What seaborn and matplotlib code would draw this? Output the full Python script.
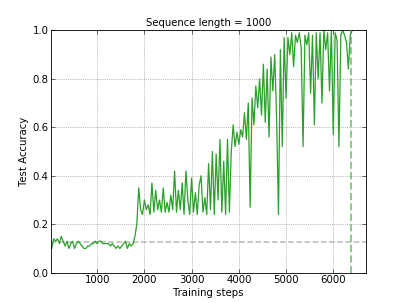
import numpy as np
import pandas as pd
import matplotlib
matplotlib.use("Agg")
import matplotlib.pyplot as plt
import seaborn as sns

step_interval = 40
accuracy = [
    # 40 - 1800
    0.10, 0.14, 0.13, 0.14, 0.12, 0.15, 0.13, 0.11, 0.13, 0.10,
    0.12, 0.13, 0.10, 0.12, 0.13, 0.12, 0.11, 0.10, 0.10, 0.11,
    0.11, 0.12, 0.12, 0.13, 0.12, 0.13, 0.13, 0.12, 0.12, 0.12,
    0.12, 0.11, 0.12, 0.11, 0.10, 0.11, 0.10, 0.11, 0.12, 0.13,
    0.10, 0.12, 0.11, 0.12, 0.15,
    # 1840 - 2600
    0.20, 0.35, 0.26, 0.24, 0.30, 0.26, 0.28, 0.24, 0.37, 0.25,
    0.34, 0.26, 0.30, 0.25, 0.35, 0.25, 0.29, 0.25, 0.32, 0.26,
    # 2640 - 3400
    0.42, 0.25, 0.34, 0.26, 0.37, 0.24, 0.42, 0.30, 0.24, 0.39,
    0.25, 0.33, 0.24, 0.36, 0.40, 0.25, 0.31, 0.24, 0.45, 0.26,
    # 3440 - 4000
    0.50, 0.24, 0.49, 0.30, 0.55, 0.25, 0.46, 0.24, 0.55, 0.25,
    0.50, 0.61, 0.52, 0.58, 0.53,
    # 4040 - 4560
    0.59, 0.56, 0.66, 0.55, 0.70, 0.27, 0.72, 0.61, 0.77, 0.68,
    0.80, 0.65, 0.86, 0.62,
    # 4600 - 5000
    0.84, 0.56, 0.89, 0.75, 0.90, 0.64, 0.24, 0.92, 0.52, 0.97,
    0.72,
    # 5040 - 6400
    0.97, 0.90, 0.99, 0.85, 0.98, 0.95, 0.99, 0.93, 0.52, 0.98,
    0.94, 0.99, 0.74, 0.98, 0.61, 0.99, 0.80, 0.99, 0.70, 1.00,
    0.92, 0.99, 0.75, 1.00, 0.57, 0.99, 0.96, 0.52, 0.98, 1.00,
    0.98, 0.95, 0.84, 0.98, 1.00,
]
chance_level = 0.125
solved_step = 6370
x_limits = (20, 6700)

df = pd.DataFrame({
    "step": np.arange(1, len(accuracy) + 1) * step_interval,
    "accuracy": accuracy,
})

sns.set_style("white", {
    "xtick.direction": "in",
    "ytick.direction": "in",
    "axes.edgecolor": "black",
    "text.color": "black",
    "axes.labelcolor": "black",
    "xtick.color": "black",
    "ytick.color": "black",
})
plt.rcParams["font.family"] = ["DejaVu Sans"]
plt.rcParams["xtick.top"] = True
plt.rcParams["ytick.right"] = True
plt.rcParams["xtick.bottom"] = True
plt.rcParams["ytick.left"] = True
plt.rcParams["xtick.major.size"] = 5
plt.rcParams["ytick.major.size"] = 5

fs = 14.5
fig, ax = plt.subplots(figsize=(8.06, 6.0), dpi=50.5)
fig.subplots_adjust(left=0.125, right=0.9, bottom=0.1, top=0.9)

ax.axhline(chance_level, color="gray", linestyle="--", lw=2.2, alpha=0.55, zorder=1)
sns.lineplot(data=df, x="step", y="accuracy", color="#2ca02c", lw=1.8, ax=ax, zorder=2)
ax.axvline(solved_step, color="#2ca02c", linestyle="--", lw=2.8, alpha=0.55, zorder=3)

ax.set_xlim(*x_limits)
ax.set_ylim(0, 1.0)
ax.set_xticks([1000, 2000, 3000, 4000, 5000, 6000])
ax.set_yticks([0.0, 0.2, 0.4, 0.6, 0.8, 1.0])
ax.grid(True, color="0.5", linestyle=":", lw=1)
for s in ax.spines.values():
    s.set_linewidth(1.2)
    s.set_color("black")

ax.set_title("Sequence length = 1000", fontsize=fs)
ax.set_xlabel("Training steps", fontsize=fs)
ax.set_ylabel("Test Accuracy", fontsize=fs)
ax.tick_params(labelsize=fs)

fig.savefig("out.png", dpi=50.5)
